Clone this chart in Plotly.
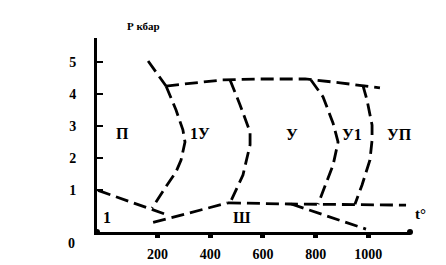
import plotly.graph_objects as go

# Phase boundary lines (t in °C, P in kbar)
line_a_t = [-26, 228]
line_a_p = [1.0, 0.26]

top_left_t = [164, 232]
top_left_p = [5.04, 4.26]

top_t = [232, 445, 589, 760, 893, 1044]
top_p = [4.26, 4.45, 4.48, 4.48, 4.36, 4.20]

b1_t = [232, 270, 296, 304, 289, 270, 236, 179]   # 1У boundary
b1_p = [4.26, 3.51, 2.89, 2.51, 1.95, 1.58, 1.17, 0.45]

b2_t = [475, 513, 551, 551, 524, 475]             # У boundary
b2_p = [4.45, 3.67, 2.82, 2.42, 1.48, 0.61]

b3_t = [782, 828, 866, 885, 866, 809]             # У1 boundary
b3_p = [4.45, 3.92, 3.10, 2.51, 1.79, 0.57]

b4_t = [979, 995, 1014, 1014, 1006, 976, 949]     # УП boundary
b4_p = [4.29, 3.82, 3.04, 2.57, 1.95, 1.17, 0.57]

low_t = [183, 467]
low_p = [0.0, 0.61]

horiz_t = [467, 700, 1143]
horiz_p = [0.61, 0.575, 0.54]

diag_t = [707, 991]
diag_p = [0.575, -0.21]

# Region labels
region_labels = ["П", "1У", "У", "У1", "УП", "1", "Ш"]
region_t = [65, 361, 710, 938, 1120, 8, 520]
region_p = [2.79, 2.79, 2.76, 2.76, 2.76, 0.14, 0.14]

x_ticks = [200, 400, 600, 800, 1000]
x_tick_text = ["200", "400", "600", "800", "1000"]
y_ticks = [1, 2, 3, 4, 5]
y_tick_text = ["1", "2", "3", "4", "5"]

FONT = "Liberation Serif"
dash = "13px,6px"

fig = go.Figure()
for tt, pp in [(line_a_t, line_a_p), (top_left_t, top_left_p), (top_t, top_p),
               (b1_t, b1_p), (b2_t, b2_p), (b3_t, b3_p), (b4_t, b4_p),
               (low_t, low_p), (horiz_t, horiz_p), (diag_t, diag_p)]:
    fig.add_trace(go.Scatter(x=tt, y=pp, mode="lines",
                             line=dict(color="black", width=2.8, dash=dash),
                             showlegend=False, hoverinfo="skip", cliponaxis=False))

for lab, tt, pp in zip(region_labels, region_t, region_p):
    fig.add_annotation(x=tt, y=pp, text=lab, showarrow=False,
                       font=dict(family=FONT, size=16, color="black", weight="bold"))

for txt, px, py, sz in [("t°", 1.035, 0.093, 15), ("Р кбар", 0.150, 1.062, 11),
                        ("0", -0.080, -0.057, 14)]:
    fig.add_annotation(xref="paper", yref="paper", x=px, y=py, text=txt,
                       showarrow=False, xanchor="center", yanchor="middle",
                       font=dict(family=FONT, size=sz, color="black", weight="bold"))

# end dots of x axis
fig.add_trace(go.Scatter(x=[1158, -30], y=[-0.3, -0.3], mode="markers",
                         marker=dict(color="black", size=6),
                         showlegend=False, hoverinfo="skip", cliponaxis=False))

fig.update_xaxes(range=[-30, 1158], showgrid=False, zeroline=False,
                 showline=True, linecolor="black", linewidth=3, automargin=False,
                 tickvals=x_ticks, ticktext=x_tick_text,
                 ticks="outside", ticklen=3, tickwidth=5, tickcolor="black",
                 ticklabelstandoff=4,
                 tickfont=dict(family=FONT, size=14, color="black", weight="bold"))
fig.update_yaxes(range=[-0.3, 5.76], showgrid=False, zeroline=False,
                 showline=True, linecolor="black", linewidth=3, automargin=False,
                 tickvals=y_ticks, ticktext=y_tick_text,
                 ticks="inside", ticklen=6, tickwidth=2, tickcolor="black",
                 ticklabelstandoff=15,
                 tickfont=dict(family=FONT, size=14, color="black", weight="bold"))

fig.update_layout(width=446, height=265,
                  margin=dict(l=97, r=36, t=38, b=33),
                  plot_bgcolor="white", paper_bgcolor="white")

fig.write_html("out.html")
